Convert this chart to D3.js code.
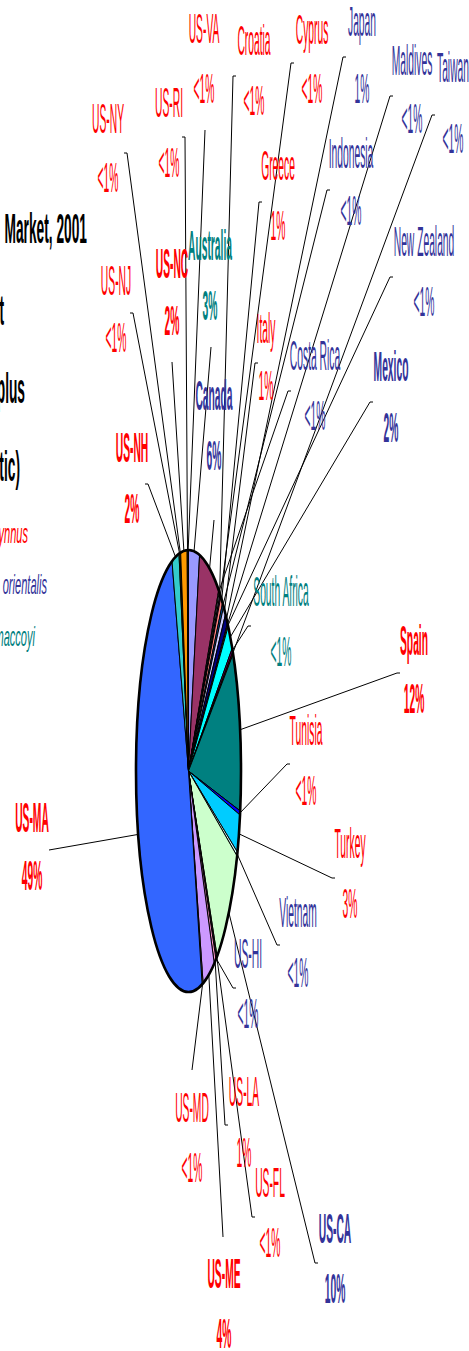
<!DOCTYPE html>
<html>
<head>
<meta charset="utf-8">
<script src="https://cdn.jsdelivr.net/npm/d3@7"></script>
<style>
  html, body { margin: 0; padding: 0; background: #fff; }
  svg { display: block; font-family: "Liberation Sans", Arial, sans-serif; }
</style>
</head>
<body>
<div id="chart"></div>
<script>
var svgWidth = 469;
var svgHeight = 1351;

// Slices, clockwise from 12 o'clock
var markets = ["Australia", "Canada", "Costa Rica", "Croatia", "Cyprus", "Greece", "Indonesia",
    "Italy", "Japan", "Maldives", "New Zealand", "Mexico", "South Africa", "Taiwan", "Spain",
    "Tunisia", "Turkey", "Vietnam", "US-CA", "US-FL", "US-HI", "US-LA", "US-ME", "US-MD",
    "US-MA", "US-NH", "US-NJ", "US-NY", "US-NC", "US-RI", "US-VA"];
var shares = [3.4, 6.4, 0.2, 0.3, 0.3, 0.7, 0.4, 0.8, 0.9, 0.1, 0.2, 2.0, 0.3, 0.2, 11.8,
    0.3, 2.8, 0.3, 9.6, 0.2, 0.2, 0.6, 3.7, 0.3, 49.3, 2.2, 0.3, 0.2, 2.0, 0.2, 0.2];
var shareLabels = ["3%", "6%", "<1%", "<1%", "<1%", "1%", "<1%", "1%", "1%", "<1%", "<1%", "2%",
    "<1%", "<1%", "12%", "<1%", "3%", "<1%", "10%", "<1%", "<1%", "1%", "4%", "<1%", "49%", "2%",
    "<1%", "<1%", "2%", "<1%", "<1%"];
// species group used for the label colour
var species = ["maccoyi", "orientalis", "orientalis", "thynnus", "thynnus", "thynnus", "orientalis",
    "thynnus", "orientalis", "orientalis", "orientalis", "orientalis", "maccoyi", "orientalis", "thynnus",
    "thynnus", "thynnus", "orientalis", "orientalis", "thynnus", "orientalis", "thynnus", "thynnus", "thynnus",
    "thynnus", "thynnus", "thynnus", "thynnus", "thynnus", "thynnus", "thynnus"];

var titleLines = ["Bluefin Tuna\u00A0\u00A0Market, 2001", "Share of Catch by Point of Landing of Product at Market",
    "Thunnus thynnus plus", "(Pacific and Atlantic)"];
var legendNames = ["Thunnus thynnus", "Thunnus orientalis", "Thunnus maccoyi"];
var legendSpecies = ["thynnus", "orientalis", "maccoyi"];

// styles
var sliceColors = ["#9999FF", "#993366", "#FFFFCC", "#CCFFFF", "#660066", "#FF8080", "#0066CC",
    "#CCCCFF", "#000080", "#FF00FF", "#FFFF00", "#00FFFF", "#800080", "#800000", "#008080",
    "#0000FF", "#00CCFF", "#CCFFFF", "#CCFFCC", "#FFFF99", "#99CCFF", "#FF99CC", "#CC99FF",
    "#FFCC99", "#3366FF", "#33CCCC", "#99CC00", "#FFCC00", "#FF9900", "#FF6600", "#666699"];
var speciesColor = { thynnus: "#FF0000", orientalis: "#333399", maccoyi: "#008080" };
var boldLabels = ["Australia", "Canada", "Mexico", "Spain", "US-CA", "US-ME", "US-MA", "US-NH", "US-NC"];

// label layout: [centre x, name baseline, pct baseline, leader end x, leader end y, stub dx]
var labelLayout = [
    [210, 260, 320, 211, 347, 0], [214, 410, 470, 214, 520, 0], [315, 370, 430, 288, 391, 3],
    [254, 55, 115, 233, 76, 3], [312, 44, 103, 291, 63, 3], [278, 180, 240, 259, 202, 3],
    [351, 168, 225, 327, 190, 3], [266, 343, 400, 255, 363, 3], [362, 36, 103, 343, 57, 3],
    [412, 75, 133, 390, 96, 3], [424, 256, 316, 390, 277, 3], [391, 381, 442, 370, 402, 3],
    [281, 606, 666, 248, 626, 3], [453, 82, 153, 432, 115, 3], [414, 655, 713, 397, 673, 3],
    [306, 745, 805, 287, 764, 3], [350, 858, 918, 332, 878, 3], [298, 927, 987, 277, 945, 3],
    [335, 1243, 1303, 315, 1263, 3], [270, 1197, 1257, 252, 1217, 3], [248, 968, 1028, 233, 988, 3],
    [244, 1106, 1167, 225, 1125, 3], [224, 1288, 1348, 223, 1237, 0], [192, 1122, 1182, 192, 1070, 0],
    [32, 832, 890, 49, 850, 0], [132, 462, 523, 148, 484, -3], [116, 295, 352, 133, 313, -3],
    [108, 133, 192, 127, 153, -3], [172, 278, 335, 172, 362, 0], [169, 117, 177, 185, 137, -3],
    [204, 43, 103, 205, 130, 0]];

var cx = 188.5, cy = 771, rx = 52.5, ry = 221, R = 100;

var svg = d3.select("#chart")
    .append("svg")
    .attr("width", svgWidth)
    .attr("height", svgHeight);

var pieData = d3.pie().sort(null).value(d => d)(shares);
var arc = d3.arc().innerRadius(0).outerRadius(R);

// pie is a circle squashed into an ellipse
var pieGroup = svg.append("g")
    .attr("transform", `translate(${cx}, ${cy}) scale(${rx / R}, ${ry / R})`);

pieGroup.selectAll("path")
    .data(pieData)
    .enter()
    .append("path")
    .attr("d", arc)
    .attr("fill", (d, i) => sliceColors[i])
    .attr("stroke", "#000")
    .attr("stroke-width", 1)
    .attr("vector-effect", "non-scaling-stroke");

pieGroup.append("circle")
    .attr("r", R)
    .attr("fill", "none")
    .attr("stroke", "#000")
    .attr("stroke-width", 2.6)
    .attr("vector-effect", "non-scaling-stroke");

// leader lines from slice edge to label
function edgePoint(d) {
    var a = (d.startAngle + d.endAngle) / 2;
    return [cx + rx * Math.sin(a), cy - ry * Math.cos(a)];
}

svg.append("g").selectAll("path")
    .data(pieData)
    .enter()
    .append("path")
    .attr("d", function (d, i) {
        var p = edgePoint(d);
        var L = labelLayout[i];
        return `M${p[0]},${p[1]}L${L[3]},${L[4]}L${L[3] + L[5]},${L[4]}`;
    })
    .attr("fill", "none")
    .attr("stroke", "#000")
    .attr("stroke-width", 1);

// labels (text is tall and narrow)
var labelSize = 42, labelSx = 0.245;
var labels = svg.append("g");
markets.forEach(function (m, i) {
    var L = labelLayout[i];
    var col = speciesColor[species[i]];
    var weight = boldLabels.indexOf(m) >= 0 ? "bold" : "normal";
    labels.append("text")
        .attr("transform", `translate(${L[0]}, ${L[1]}) scale(${labelSx}, 1)`)
        .attr("text-anchor", "middle")
        .attr("font-size", labelSize)
        .attr("font-weight", weight)
        .attr("fill", col)
        .text(m);
    labels.append("text")
        .attr("transform", `translate(${L[0]}, ${L[2]}) scale(${labelSx}, 1)`)
        .attr("text-anchor", "middle")
        .attr("font-size", labelSize)
        .attr("font-weight", weight)
        .attr("fill", col)
        .text(shareLabels[i]);
});

// title, cut off at the left edge
var titleRight = [87, 4, 25, 20];
var titleBase = [243, 325, 403, 481];
titleLines.forEach(function (t, i) {
    svg.append("text")
        .attr("transform", `translate(${titleRight[i]}, ${titleBase[i]}) scale(0.32, 1)`)
        .attr("text-anchor", "end")
        .attr("font-size", 43)
        .attr("font-weight", "bold")
        .attr("fill", "#000")
        .text(t);
});

// legend
var legendRight = [28, 47, 35];
var legendBase = [543, 594, 646];
legendNames.forEach(function (t, i) {
    svg.append("text")
        .attr("transform", `translate(${legendRight[i]}, ${legendBase[i]}) scale(0.41, 1)`)
        .attr("text-anchor", "end")
        .attr("font-size", 27)
        .attr("font-style", "italic")
        .attr("fill", speciesColor[legendSpecies[i]])
        .text(t);
});
</script>
</body>
</html>
